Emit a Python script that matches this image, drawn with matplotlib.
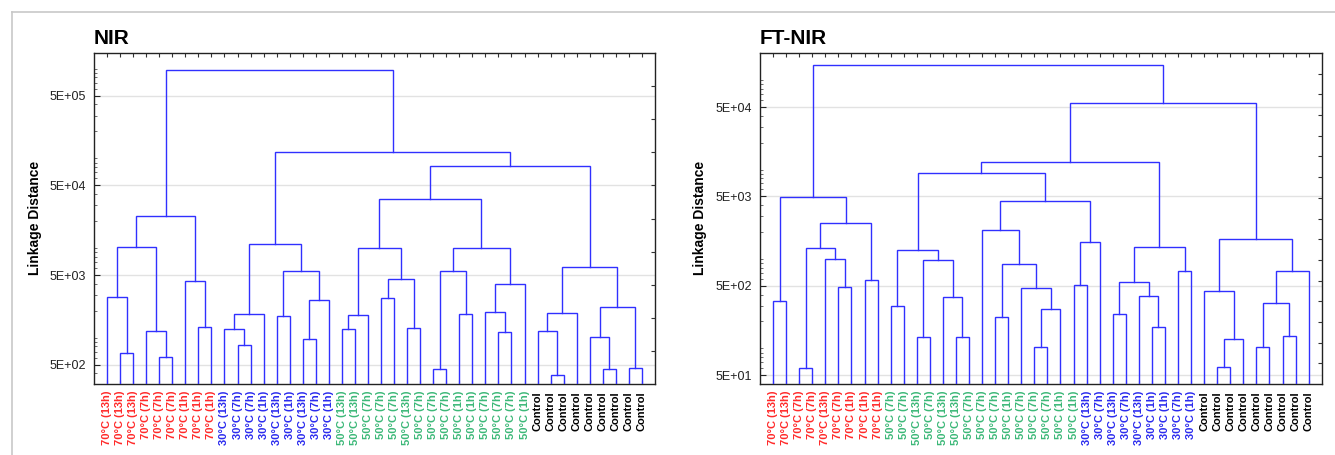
import matplotlib
matplotlib.use('Agg')
import matplotlib.pyplot as plt
from matplotlib.ticker import FixedLocator, LogLocator, NullFormatter, FuncFormatter
from matplotlib.lines import Line2D

plt.rcParams['font.family'] = ['Liberation Sans', 'DejaVu Sans']

# ---------------- data ----------------
nir_labels = (["70°C (13h)"] * 3 + ["70°C (7h)"] * 3 + ["70°C (1h)"] * 3 +
              ["30°C (13h)", "30°C (7h)", "30°C (7h)", "30°C (1h)", "30°C (13h)",
               "30°C (1h)", "30°C (13h)", "30°C (7h)", "30°C (1h)"] +
              ["50°C (13h)", "50°C (13h)", "50°C (7h)", "50°C (7h)", "50°C (7h)",
               "50°C (13h)", "50°C (7h)", "50°C (7h)", "50°C (7h)", "50°C (1h)",
               "50°C (1h)", "50°C (7h)", "50°C (7h)", "50°C (7h)", "50°C (1h)"] +
              ["Control"] * 9)

# merges: (a, b); ids < 42 are leaves, id 42+k is the k-th merge
nir_pairs = [(1, 2), (0, 42), (4, 5), (3, 44), (43, 45), (7, 8), (6, 47), (46, 48),
             (10, 11), (9, 50), (51, 12), (13, 14), (15, 16), (54, 17), (53, 55), (52, 56),
             (18, 19), (58, 20), (21, 22), (23, 24), (60, 61), (59, 62),
             (25, 26), (27, 28), (64, 65), (30, 31), (29, 67), (68, 32), (66, 69), (63, 70),
             (34, 35), (33, 72), (73, 36), (38, 39), (37, 75), (40, 41), (76, 77), (74, 78),
             (71, 79), (57, 80), (49, 81)]
nir_heights = [670, 2870, 605, 1200, 10300, 1330, 4320, 23000,
               829, 1260, 1820, 1750, 975, 2610, 5550, 11200,
               1260, 1780, 2770, 1290, 4480, 9930,
               444, 1820, 5550, 1150, 1920, 4000, 10100, 35500,
               381, 1200, 1870, 444, 1030, 456, 2180, 6190,
               82800, 119000, 975000]

ftnir_labels = (["70°C (13h)", "70°C (13h)", "70°C (7h)", "70°C (7h)", "70°C (13h)",
                 "70°C (7h)", "70°C (1h)", "70°C (1h)", "70°C (1h)"] +
                ["50°C (7h)", "50°C (7h)", "50°C (13h)", "50°C (7h)", "50°C (13h)",
                 "50°C (13h)", "50°C (7h)", "50°C (7h)", "50°C (7h)", "50°C (1h)",
                 "50°C (7h)", "50°C (7h)", "50°C (7h)", "50°C (1h)", "50°C (1h)"] +
                ["30°C (13h)", "30°C (7h)", "30°C (13h)", "30°C (7h)", "30°C (13h)",
                 "30°C (1h)", "30°C (1h)", "30°C (7h)", "30°C (1h)"] +
                ["Control"] * 9)

ftnir_pairs = [(0, 1), (2, 3), (5, 6), (4, 44), (43, 45), (7, 8), (46, 47), (42, 48),
               (9, 10), (11, 12), (14, 15), (13, 52), (51, 53), (50, 54),
               (17, 18), (20, 21), (57, 22), (19, 58), (56, 59), (16, 60),
               (23, 24), (62, 25), (61, 63), (55, 64),
               (26, 27), (29, 30), (28, 67), (66, 68), (31, 32), (69, 70), (65, 71),
               (34, 35), (73, 36), (33, 74), (37, 38), (39, 40), (76, 77), (78, 41),
               (75, 79), (72, 80), (49, 81)]
ftnir_heights = [342, 60.8, 483, 995, 1320, 583, 2540, 4990,
                 296, 135, 135, 373, 977, 1250,
                 226, 105, 274, 471, 874, 2100,
                 509, 1540, 4500, 9130,
                 241, 175, 389, 550, 741, 1360, 12000,
                 62.4, 128, 443, 105, 139, 325, 741,
                 1660, 55400, 146000]

nir_ylim = (305, 1.5e6)
ftnir_ylim = (40, 2.01e5)

LINE = '#3030ff'
COLORS = {'70': '#ff2a2a', '30': '#2a2aee', '50': '#3cb878', 'Co': '#000000'}

W, H = 1335, 455
fig = plt.figure(figsize=(W / 100, H / 100), dpi=100)


def draw(rect, labels, pairs, heights, ylim, title, right_step, title_x, ylabel_x):
    ax = fig.add_axes(rect)
    n = len(labels)
    xs = {i: i + 1 for i in range(n)}
    ys = {i: ylim[0] for i in range(n)}
    for k, ((a, b), h) in enumerate(zip(pairs, heights)):
        xa, xb = xs[a], xs[b]
        ax.plot([xa, xa, xb, xb], [ys[a], h, h, ys[b]], color=LINE, lw=1.0,
                solid_joinstyle='miter', zorder=3)
        xs[n + k] = (xa + xb) / 2
        ys[n + k] = h
    ax.set_yscale('log')
    ax.set_ylim(*ylim)
    ax.set_xlim(0, n + 1)
    majors = [5 * 10 ** e for e in range(0, 8)]
    ax.yaxis.set_major_locator(FixedLocator(majors))
    ax.yaxis.set_major_formatter(FuncFormatter(lambda v, p: f"{v:.0E}"))
    ax.yaxis.set_minor_locator(LogLocator(base=10, subs=(1.0, 2.0, 3.0, 4.0, 6.0, 7.0, 8.0, 9.0), numticks=50))
    ax.yaxis.set_minor_formatter(NullFormatter())
    ax.tick_params(axis='y', which='major', direction='in', length=4, labelsize=9,
                   pad=6, colors='#222222', labelcolor='#222222')
    ax.tick_params(axis='y', which='minor', direction='in', length=2, color='#555555')
    ax.grid(axis='y', which='major', color='#e2e2e2', lw=1.0, zorder=0)
    ax.set_xticks(range(1, n + 1))
    ax.set_xticklabels(labels, rotation=90, fontsize=8, fontweight='bold')
    for t, lab in zip(ax.get_xticklabels(), labels):
        t.set_color(COLORS[lab[:2]])
    ax.tick_params(axis='x', direction='in', length=3, pad=5, top=True, color='#333333')
    for s in ax.spines.values():
        s.set_color('#222222')
        s.set_linewidth(1.0)
    # right-side ticks (evenly spaced)
    ax2 = ax.twinx()
    ax2.set_ylim(0, 1)
    nstep = int(round(1 / right_step))
    ax2.set_yticks([i * right_step for i in range(1, nstep)])
    ax2.tick_params(axis='y', direction='in', length=3, labelright=False, color='#333333')
    for s in ax2.spines.values():
        s.set_visible(False)
    fig.text(title_x, (H - 44.5) / H, title, fontsize=15, fontweight='bold',
             ha='left', va='baseline')
    fig.text(ylabel_x, (H - 218) / H, 'Linkage Distance', rotation=90, fontsize=10,
             fontweight='bold', ha='center', va='center')
    return ax


bottom = (H - 384) / H
height = 331 / H
draw([94 / W, bottom, 561 / W, height], nir_labels, nir_pairs, nir_heights, nir_ylim,
     'NIR', 0.1, 94 / W, 34.5 / W)
draw([760 / W, bottom, 561.7 / W, height], ftnir_labels, ftnir_pairs, ftnir_heights,
     ftnir_ylim, 'FT-NIR', 1 / 16, 760 / W, 700 / W)

# outer frame
fig.add_artist(Line2D([12 / W, 1.0], [1 - 12 / H, 1 - 12 / H], color='#c8c8c8', lw=1.2))
fig.add_artist(Line2D([12 / W, 12 / W], [0, 1 - 12 / H], color='#c8c8c8', lw=1.2))

fig.savefig('out.png', dpi=100)
